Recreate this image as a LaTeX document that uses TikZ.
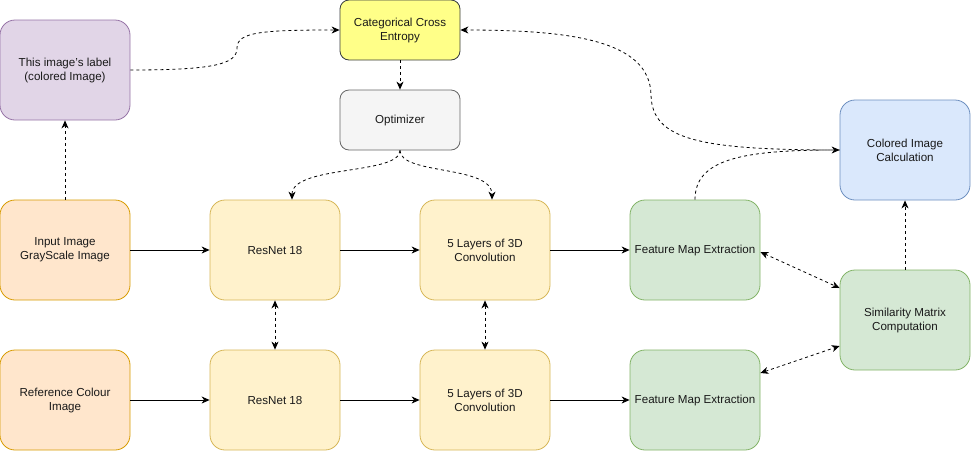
\documentclass[tikz,border=0pt]{standalone}
\usepackage{fontspec}
\setmainfont{Liberation Sans}
\usetikzlibrary{arrows.meta,calc}
\definecolor{purpF}{HTML}{E1D5E7}\definecolor{purpD}{HTML}{9673A6}
\definecolor{yelF}{HTML}{FFFF88}\definecolor{yelD}{HTML}{36393D}
\definecolor{grayF}{HTML}{F5F5F5}\definecolor{grayD}{HTML}{666666}
\definecolor{bluF}{HTML}{DAE8FC}\definecolor{bluD}{HTML}{6C8EBF}
\definecolor{orF}{HTML}{FFE6CC}\definecolor{orD}{HTML}{D79B00}
\definecolor{lyF}{HTML}{FFF2CC}\definecolor{lyD}{HTML}{D6B656}
\definecolor{grF}{HTML}{D5E8D4}\definecolor{grD}{HTML}{82B366}
\tikzset{
  box/.style={draw, line width=0.8pt, rounded corners=15pt, minimum width=130pt, minimum height=100pt,
    align=center, inner sep=2pt, font=\fontsize{11.6}{14}\selectfont, text=black!90},
  smallbox/.style={box, minimum height=60pt, minimum width=120pt, rounded corners=9pt},
  purp/.style={fill=purpF, draw=purpD},
  yel/.style={fill=yelF, draw=yelD},
  gry/.style={fill=grayF, draw=grayD},
  blu/.style={fill=bluF, draw=bluD},
  org/.style={fill=orF, draw=orD},
  lyl/.style={fill=lyF, draw=lyD},
  grn/.style={fill=grF, draw=grD},
  tip/.style={-{Stealth[length=8pt,width=7pt,inset=2.5pt]}},
  solidarr/.style={tip, line width=0.8pt},
  dasharr/.style={tip, line width=0.8pt, dash pattern=on 3pt off 3pt},
  dbldash/.style={{Stealth[length=8pt,width=7pt,inset=2.5pt]}-{Stealth[length=8pt,width=7pt,inset=2.5pt]}, line width=0.8pt, dash pattern=on 3pt off 3pt},
}
\begin{document}
\begin{tikzpicture}[x=1pt,y=-1pt]
\useasboundingbox (0,0) rectangle (971,451);
\node[box,purp] (lab) at (65,70) {This image's label\\(colored Image)};
\node[smallbox,yel] (cce) at (400,30) {Categorical Cross\\Entropy};
\node[smallbox,gry] (opt) at (400,120) {Optimizer};
\node[box,blu] (col) at (905,150) {Colored Image\\Calculation};
\node[box,org] (inp) at (65,250) {Input Image\\GrayScale Image};
\node[box,lyl] (rt) at (275,250) {ResNet 18};
\node[box,lyl] (ct) at (485,250) {5 Layers of 3D\\Convolution};
\node[box,grn] (ft) at (695,250) {Feature Map Extraction};
\node[box,grn] (sim) at (905,320) {Similarity Matrix\\Computation};
\node[box,org] (ref) at (65,400) {Reference Colour\\Image};
\node[box,lyl] (rb) at (275,400) {ResNet 18};
\node[box,lyl] (cb) at (485,400) {5 Layers of 3D\\Convolution};
\node[box,grn] (fb) at (695,400) {Feature Map Extraction};

% solid flow
\draw[solidarr] (inp) -- (rt);
\draw[solidarr] (rt) -- (ct);
\draw[solidarr] (ct) -- (ft);
\draw[solidarr] (ref) -- (rb);
\draw[solidarr] (rb) -- (cb);
\draw[solidarr] (cb) -- (fb);

% dashed
\draw[dasharr] (inp) -- (lab);
\draw[dasharr] (lab.east) .. controls (215,70) and (237,64) .. (237,48) .. controls (237,32) and (262,30) .. (cce.west);
\draw[dasharr] (cce) -- (opt);
\draw[dasharr] (opt.south) .. controls (400,175) and (292,165) .. ([xshift=17pt]rt.north);
\draw[dasharr] (opt.south) .. controls (400,175) and (492,165) .. ([xshift=7pt]ct.north);
\draw[dbldash] (rt) -- (rb);
\draw[dbldash] (ct) -- (cb);
\draw[dbldash] ([yshift=-2pt]ft.east) -- ([yshift=32pt]sim.west);
\draw[dbldash] ([yshift=27pt]fb.east) -- ([yshift=-26pt]sim.west);
\draw[dasharr] (sim) -- (col);
\draw[dasharr] (ft.north) .. controls (695,160) and (740,150) .. (col.west);
\draw[dasharr] (col.west) .. controls (700,150) and (652,140) .. (651,95) .. controls (650,40) and (570,30) .. (cce.east);
\end{tikzpicture}
\end{document}
